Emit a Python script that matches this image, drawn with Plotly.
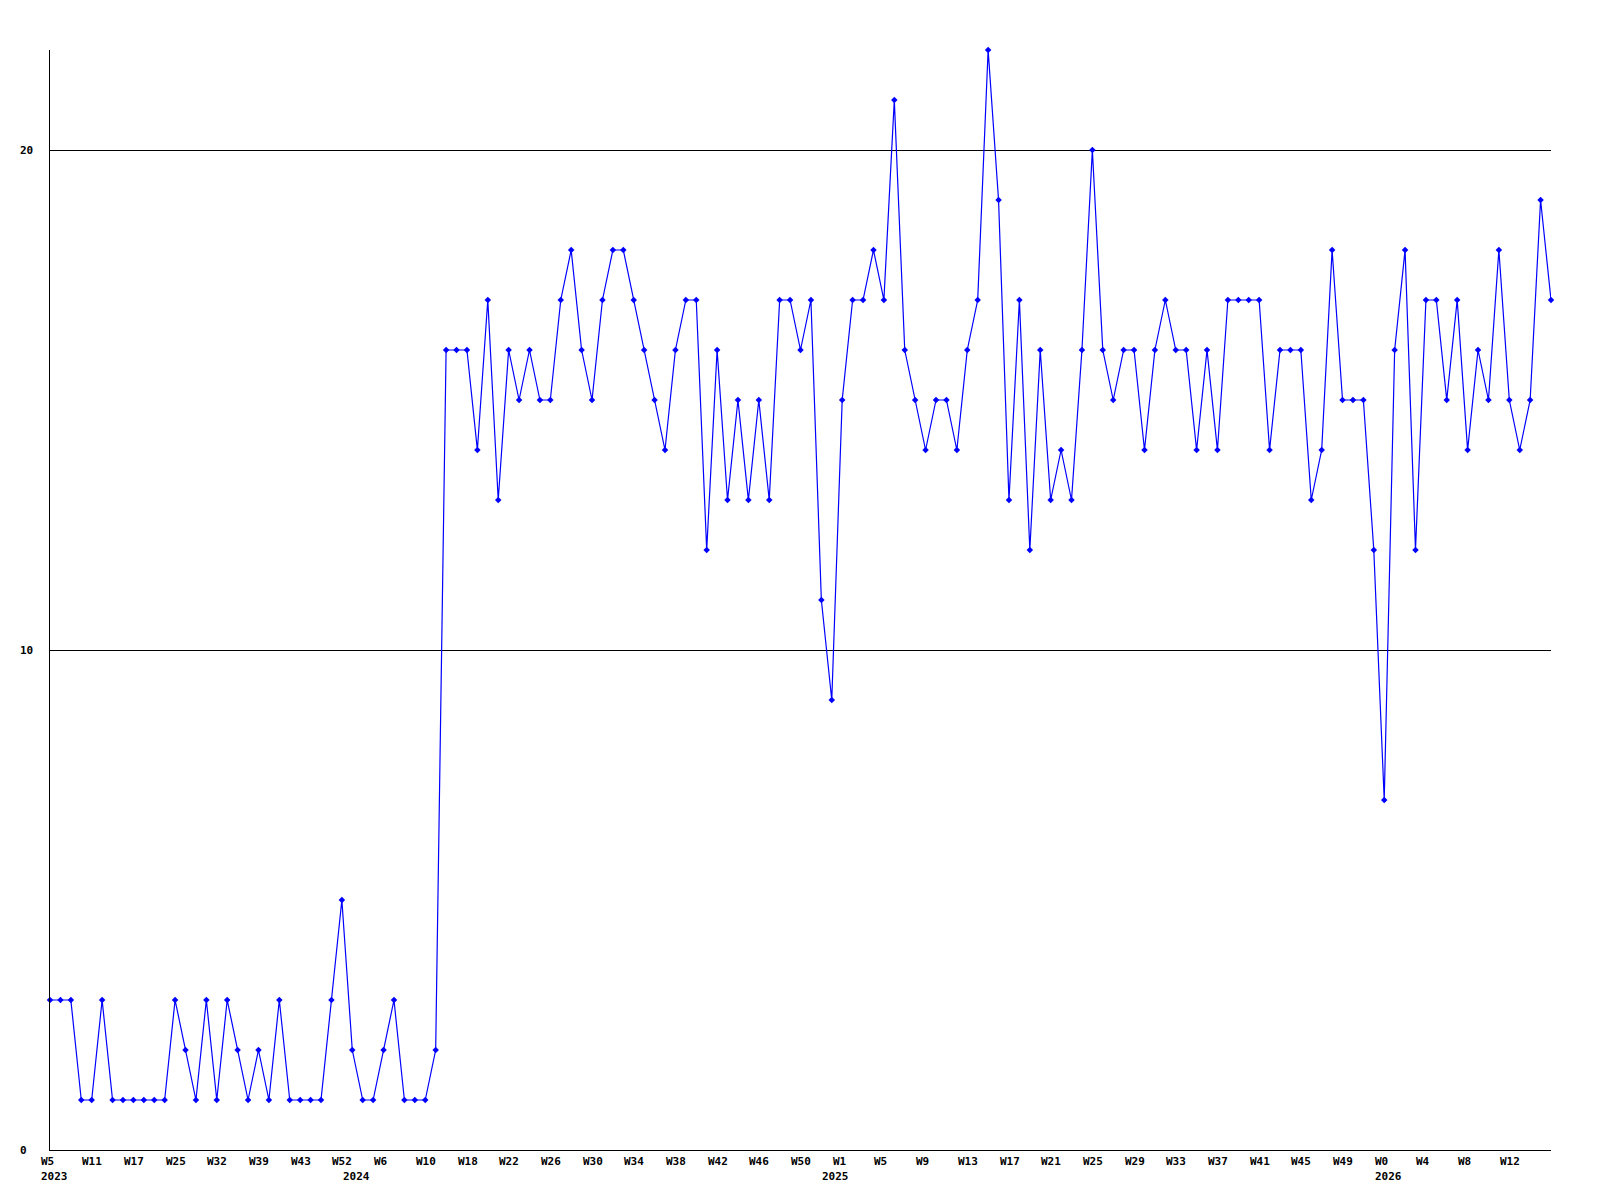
import plotly.graph_objects as go

# Weekly values (145 points, one per data week)
values = [
    3, 3, 3, 1, 1, 3, 1, 1, 1, 1, 1, 1, 3, 2, 1, 3, 1, 3, 2, 1,
    2, 1, 3, 1, 1, 1, 1, 3, 5, 2, 1, 1, 2, 3, 1, 1, 1, 2,
    16, 16, 16, 14, 17, 13, 16, 15, 16, 15, 15, 17, 18, 16, 15, 17, 18, 18, 17, 16,
    15, 14, 16, 17, 17, 12, 16, 13, 15, 13, 15, 13,
    17, 17, 16, 17, 11, 9, 15, 17, 17, 18, 17, 21, 16, 15, 14, 15, 15, 14, 16, 17,
    22, 19, 13, 17, 12, 16, 13, 14, 13, 16, 20, 16, 15, 16, 16, 14, 16, 17, 16, 16,
    14,
    16, 14, 17, 17, 17, 17, 14, 16, 16, 16, 13, 14, 18, 15, 15, 15, 12, 7, 16, 18,
    12, 17, 17, 15, 17, 14, 16, 15, 18, 15, 14, 15, 19, 17,
]

# one week label every 4 data points
week_labels = [
    "W5", "W11", "W17", "W25", "W32", "W39", "W43", "W52", "W6", "W10",
    "W18", "W22", "W26", "W30", "W34", "W38", "W42", "W46", "W50", "W1",
    "W5", "W9", "W13", "W17", "W21", "W25", "W29", "W33", "W37", "W41",
    "W45", "W49", "W0", "W4", "W8", "W12",
]
label_every = 4
year_labels = ["2023", "2024", "2025", "2026"]
year_start_index = [0, 29, 75, 128]
y_tick_values = [0, 10, 20]

# page body has an 8px default margin; size the figure so that it fits exactly
W, H = 1584, 1184
ML, MR, MT, MB = 42, 41, 42, 42
n = len(values)
x = list(range(n))
x_max = n - 1

label_offset = -1.0  # labels are left-aligned about one point before their point

FONT = dict(family="DejaVu Sans Mono", size=11, color="black", weight="bold")

fig = go.Figure()
fig.add_trace(go.Scatter(
    x=x, y=values, mode="lines+markers",
    line=dict(color="#0000ff", width=1.2),
    marker=dict(symbol="diamond", size=5, color="#0000ff"),
    cliponaxis=False,
    hoverinfo="skip",
))


def to_paper(xv):
    return xv / x_max


annotations = []
for k, lab in enumerate(week_labels):
    annotations.append(dict(
        x=to_paper(k * label_every + label_offset), xref="paper", y=0, yref="paper",
        text=lab, showarrow=False, xanchor="left", yanchor="top",
        yshift=-4, font=FONT, borderpad=0,
    ))
for idx, lab in zip(year_start_index, year_labels):
    annotations.append(dict(
        x=to_paper(idx + label_offset), xref="paper", y=0, yref="paper",
        text=lab, showarrow=False, xanchor="left", yanchor="top",
        yshift=-19, font=FONT, borderpad=0,
    ))
plot_w = W - ML - MR
for v in y_tick_values:
    annotations.append(dict(
        x=-31 / plot_w, xref="paper", y=v, yref="y",
        text=str(v), showarrow=False, xanchor="left", yanchor="middle",
        font=FONT, borderpad=0,
    ))

fig.update_layout(
    width=W, height=H, autosize=False,
    margin=dict(l=ML, r=MR, t=MT, b=MB, pad=0),
    paper_bgcolor="white", plot_bgcolor="white",
    showlegend=False,
    annotations=annotations,
    xaxis=dict(
        range=[0, x_max], showgrid=False, zeroline=False,
        showline=True, linecolor="black", linewidth=1,
        showticklabels=False, ticks="",
    ),
    yaxis=dict(
        range=[0, 22], tickvals=[10, 20], showgrid=True,
        gridcolor="black", gridwidth=1, zeroline=False,
        showline=True, linecolor="black", linewidth=1,
        showticklabels=False, ticks="",
    ),
)

fig.write_html("out.html")
